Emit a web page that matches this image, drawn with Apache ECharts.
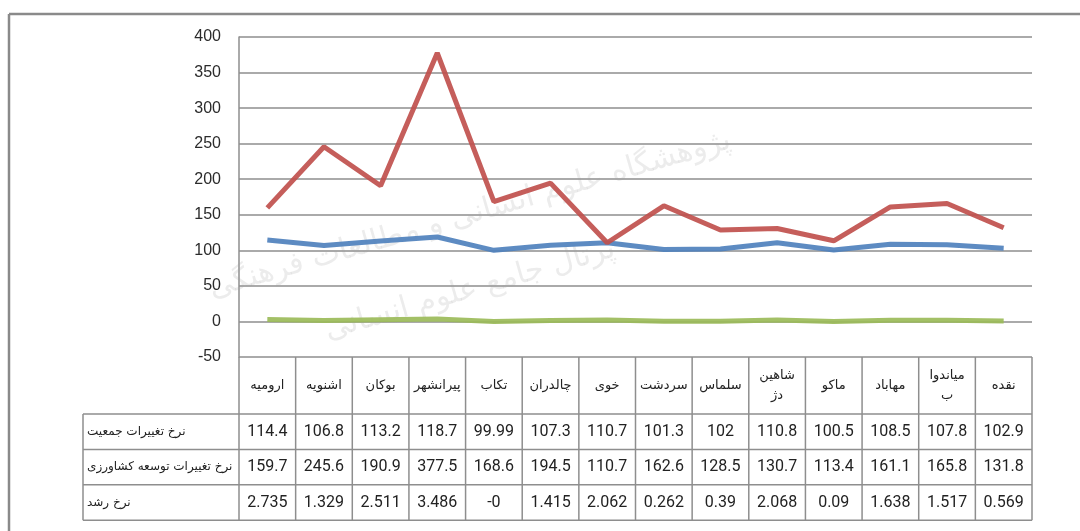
<!DOCTYPE html>
<html><head><meta charset="utf-8">
<script src="https://cdn.jsdelivr.net/npm/echarts@6/dist/echarts.min.js"></script>
<style>html,body{margin:0;padding:0;background:#fff}#c{width:1080px;height:531px}</style>
</head><body><div id="c"></div>
<script>
// ---- data ----
const categories = ['ارومیه','اشنویه','بوکان','پیرانشهر','تکاب','چالدران','خوی','سردشت','سلماس','شاهین\nدژ','ماکو','مهاباد','میاندوا\nب','نقده'];
const seriesNames = ['نرخ تغییرات جمعیت','نرخ تغییرات توسعه کشاورزی','نرخ رشد'];
const populationChange = [114.4,106.8,113.2,118.7,99.99,107.3,110.7,101.3,102,110.8,100.5,108.5,107.8,102.9];
const agriChange = [159.7,245.6,190.9,377.5,168.6,194.5,110.7,162.6,128.5,130.7,113.4,161.1,165.8,131.8];
const growthRate = [2.735,1.329,2.511,3.486,-0,1.415,2.062,0.262,0.39,2.068,0.09,1.638,1.517,0.569];
const yMin = -50, yMax = 400, yInterval = 50;

// ---- styles ----
const colors = ['#4f81bd','#c0504d','#9bbb59'];
const lineGray = '#8e8e8e';
const persianFont = 'DejaVu Sans';
const numFont = 'Roboto';

const chart = echarts.init(document.getElementById('c'), null, {renderer:'canvas'});
const allSeries = [populationChange, agriChange, growthRate];

chart.setOption({
  animation:false,
  backgroundColor:'#fff',
  grid:{left:239,right:48,top:37,bottom:174,containLabel:false},
  xAxis:{type:'category',data:categories,boundaryGap:true,
    axisLine:{show:false},axisTick:{show:false},axisLabel:{show:false},splitLine:{show:false}},
  yAxis:{type:'value',min:yMin,max:yMax,interval:yInterval,
    axisLine:{show:true,lineStyle:{color:lineGray,width:1.5}},
    axisTick:{show:false},
    axisLabel:{color:'#2b2b2b',fontSize:16,fontFamily:'Liberation Sans',margin:18},
    splitLine:{show:true,lineStyle:{color:lineGray,width:1.5}}},
  series: allSeries.map((d,i)=>({type:'line',name:seriesNames[i],data:d,symbol:'none',
    lineStyle:{color:colors[i],width:5,opacity:0.92},z:3}))
});

function fmt(v){ return Object.is(v,-0) ? '-0' : String(v); }

const c0 = chart.convertToPixel({xAxisIndex:0},0);
const c1 = chart.convertToPixel({xAxisIndex:0},1);
const colW = c1 - c0;
const xLeft = c0 - colW/2;
const xRight = xLeft + colW*categories.length;
const yTop = chart.convertToPixel({yAxisIndex:0}, yMin);
const headerH = 57, rowH = 35.4;
const labelLeft = 83;
const rowsTop = yTop + headerH;
const tableBottom = rowsTop + rowH*3;

const g = [];
const L = (x1,y1,x2,y2,w,col)=>g.push({type:'line',shape:{x1,y1,x2,y2},style:{stroke:col||lineGray,lineWidth:w||1.5},z:10});

// outer frame
L(9,14,1080,14,2.5,'#8a8a8a');
L(9,14,9,531,2.5,'#8a8a8a');

// vertical column lines
for(let i=0;i<=categories.length;i++){
  const x = xLeft + colW*i;
  L(x,yTop,x,tableBottom);
}
// horizontal lines
L(labelLeft,rowsTop,xRight,rowsTop);
for(let r=1;r<=3;r++) L(labelLeft,rowsTop+rowH*r,xRight,rowsTop+rowH*r);
L(labelLeft,rowsTop,labelLeft,tableBottom);

// header texts
categories.forEach((cat,i)=>{
  g.push({type:'text',x:xLeft+colW*(i+0.5),y:yTop+headerH/2,z:11,
    style:{text:cat,fill:'#222',font:'13px "'+persianFont+'"',align:'center',verticalAlign:'middle',lineHeight:20}});
});
// rows
allSeries.forEach((d,r)=>{
  const cy = rowsTop + rowH*(r+0.5);
  g.push({type:'text',x:labelLeft+4,y:cy,z:11,
    style:{text:seriesNames[r],fill:'#222',font:'12px "'+persianFont+'"',align:'left',verticalAlign:'middle'}});
  d.forEach((v,i)=>{
    g.push({type:'text',x:xLeft+colW*(i+0.5),y:cy,z:11,
      style:{text:fmt(v),fill:'#222',font:'16px "'+numFont+'"',align:'center',verticalAlign:'middle'}});
  });
});

// faint watermark
g.push({type:'text',x:470,y:215,rotation:0.28,z:1,
  style:{text:'پژوهشگاه علوم انسانی و مطالعات فرهنگی',fill:'rgba(160,160,160,0.2)',font:'30px "'+persianFont+'"',align:'center',verticalAlign:'middle'}});
g.push({type:'text',x:470,y:290,rotation:0.28,z:1,
  style:{text:'پرتال جامع علوم انسانی',fill:'rgba(160,160,160,0.2)',font:'30px "'+persianFont+'"',align:'center',verticalAlign:'middle'}});

chart.setOption({graphic:{elements:g}});
</script></body></html>
